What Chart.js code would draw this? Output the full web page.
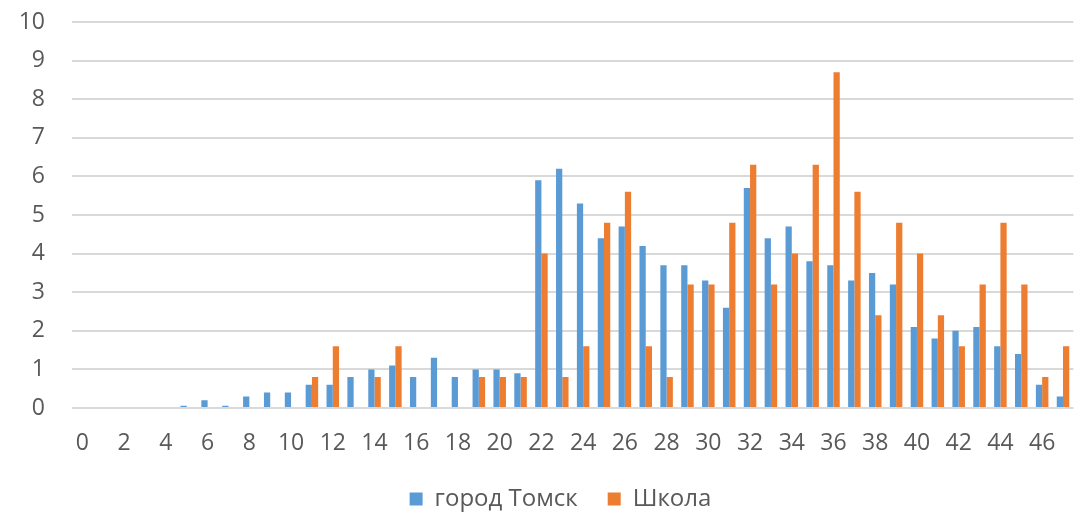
<!DOCTYPE html>
<html>
<head>
<meta charset="utf-8">
<script src="https://cdn.jsdelivr.net/npm/chart.js@4/dist/chart.umd.min.js"></script>
<style>
  html, body { margin: 0; padding: 0; background: #fff; overflow: hidden; }
  #wrap { width: 1077px; height: 512px; }
</style>
</head>
<body>
<div id="wrap"><canvas id="c" width="1077" height="512"></canvas></div>
<script>
const categories = Array.from({length: 48}, (_, i) => String(i));
const tomskValues = [0, 0, 0, 0, 0, 0.06, 0.2, 0.06, 0.3, 0.4, 0.4, 0.6, 0.6, 0.8, 1.0, 1.1, 0.8, 1.3, 0.8, 1.0, 1.0, 0.9,
  5.9, 6.2, 5.3, 4.4, 4.7, 4.2, 3.7, 3.7, 3.3, 2.6, 5.7, 4.4, 4.7, 3.8, 3.7, 3.3, 3.5, 3.2, 2.1, 1.8, 2.0, 2.1, 1.6, 1.4, 0.6, 0.3];
const schoolValues = [0, 0, 0, 0, 0, 0, 0, 0, 0, 0, 0, 0.8, 1.6, 0, 0.8, 1.6, 0, 0, 0, 0.8, 0.8, 0.8,
  4.0, 0.8, 1.6, 4.8, 5.6, 1.6, 0.8, 3.2, 3.2, 4.8, 6.3, 3.2, 4.0, 6.3, 8.7, 5.6, 2.4, 4.8, 4.0, 2.4, 1.6, 3.2, 4.8, 3.2, 0.8, 1.6];
const seriesNames = ['город Томск', 'Школа'];
const yTicks = [0, 1, 2, 3, 4, 5, 6, 7, 8, 9, 10];

const FONT = "'Open Sans', 'Noto Sans', sans-serif";

const legendShift = {
  id: 'legendShift',
  beforeDraw(chart) {
    const lg = chart.legend;
    if (lg && !lg._shifted) {
      lg.left += 22; lg.right += 22;
      lg._shifted = true;
    }
  }
};

new Chart(document.getElementById('c'), {
  type: 'bar',
  data: {
    labels: categories,
    datasets: [
      { label: seriesNames[0], data: tomskValues, backgroundColor: '#5B9BD5', borderWidth: 0 },
      { label: seriesNames[1], data: schoolValues, backgroundColor: '#ED7D31', borderWidth: 0 }
    ]
  },
  plugins: [legendShift],
  options: {
    responsive: false,
    animation: false,
    layout: { padding: { top: 22, right: 0, left: 0, bottom: 0 } },
    datasets: { bar: { barPercentage: 1.0, categoryPercentage: 0.6 } },
    plugins: {
      tooltip: { enabled: false },
      legend: {
        position: 'bottom',
        maxHeight: 55,
        labels: {
          font: { family: FONT, size: 24 },
          color: '#595959',
          boxWidth: 13,
          boxHeight: 13,
          padding: 30
        }
      }
    },
    scales: {
      x: {
        grid: { display: false },
        border: { display: false },
        afterFit: (axis) => { axis.height = 49; },
        ticks: {
          autoSkip: false,
          maxRotation: 0,
          font: { family: FONT, size: 23 },
          color: '#595959',
          padding: 14,
          callback: function (v, i) { return i % 2 === 0 ? categories[i] : ''; }
        }
      },
      y: {
        min: yTicks[0],
        max: yTicks[yTicks.length - 1],
        afterBuildTicks: (axis) => { axis.ticks = yTicks.map(v => ({ value: v })); },
        afterFit: (axis) => { axis.width = 72; },
        grid: { color: '#D9D9D9', lineWidth: 2, tickLength: 27, tickColor: 'rgba(0,0,0,0)' },
        border: { display: false },
        ticks: {
          font: { family: FONT, size: 23 },
          color: '#595959',
          padding: 0
        }
      }
    }
  }
});
</script>
</body>
</html>
